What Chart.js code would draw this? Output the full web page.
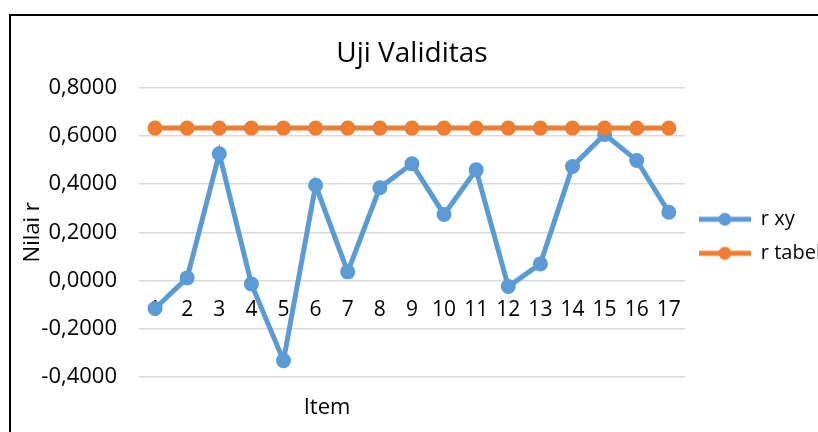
<!DOCTYPE html>
<html>
<head>
<meta charset="utf-8">
<script src="https://cdn.jsdelivr.net/npm/chart.js@4.4.0/dist/chart.umd.min.js"></script>
<style>
  html, body { margin: 0; padding: 0; background: #fff; overflow: hidden; }
  #frame { position: absolute; left: 9px; top: 14px; width: 1000px; height: 1000px;
           border-left: 2px solid #000; border-top: 2px solid #000; }
  #chart { position: absolute; left: 0; top: 0; }
</style>
</head>
<body>
<div id="frame"></div>
<canvas id="chart" width="831" height="432"></canvas>
<script>
// data
const items = ['1', '2', '3', '4', '5', '6', '7', '8', '9', '10', '11', '12', '13', '14', '15', '16', '17'];
const rXy = [-0.116, 0.011, 0.526, -0.014, -0.332, 0.395, 0.036, 0.385, 0.484, 0.274, 0.459, -0.025, 0.069, 0.473, 0.606, 0.498, 0.283];
const rTabel = [0.632, 0.632, 0.632, 0.632, 0.632, 0.632, 0.632, 0.632, 0.632, 0.632, 0.632, 0.632, 0.632, 0.632, 0.632, 0.632, 0.632];
const seriesNames = ['r xy', 'r tabel'];
const seriesColors = ['#5B9BD5', '#ED7D31'];
const chartTitle = 'Uji Validitas';
const xTitle = 'Item';
const yTitle = 'Nilai r';

Chart.defaults.font.family = "'Open Sans', sans-serif";
Chart.defaults.color = '#000';

// legend marker: short line with a dot, like Excel
function legendMarker(color) {
    const c = document.createElement('canvas');
    c.width = 52;
    c.height = 16;
    const g = c.getContext('2d');
    g.strokeStyle = color;
    g.lineWidth = 5;
    g.beginPath();
    g.moveTo(0, 8);
    g.lineTo(52, 8);
    g.stroke();
    g.fillStyle = color;
    g.beginPath();
    g.arc(26, 8, 6.5, 0, Math.PI * 2);
    g.fill();
    return c;
}
const markers = seriesColors.map(legendMarker);

// x axis title sits under the plot, not next to the axis line
const itemTitle = {
    id: 'itemTitle',
    afterDraw(chart) {
        const ctx = chart.ctx;
        ctx.save();
        ctx.font = "22px 'Open Sans'";
        ctx.fillStyle = '#000';
        ctx.textAlign = 'center';
        ctx.textBaseline = 'alphabetic';
        ctx.fillText(xTitle, 327, 414);
        ctx.restore();
    }
};

const makeSet = (label, data, color, order) => ({
    label,
    data,
    order,
    borderColor: color,
    backgroundColor: color,
    borderWidth: 5,
    pointRadius: 7.5,
    pointBorderWidth: 0,
    pointBackgroundColor: color,
    tension: 0
});

new Chart(document.getElementById('chart'), {
    type: 'line',
    data: {
        labels: items,
        datasets: [
            makeSet(seriesNames[0], rXy, seriesColors[0], 1),
            makeSet(seriesNames[1], rTabel, seriesColors[1], 0)
        ]
    },
    options: {
        responsive: false,
        animation: false,
        layout: { padding: { left: 0, right: 0, top: 0, bottom: 55 } },
        plugins: {
            title: {
                display: true,
                text: chartTitle,
                fullSize: false,
                font: { size: 28, weight: 'normal' },
                color: '#000',
                padding: { top: 37, bottom: 17 }
            },
            legend: {
                position: 'right',
                fullSize: false,
                title: { display: true, text: ' ', font: { size: 5 }, padding: 1 },
                labels: {
                    usePointStyle: true,
                    pointStyleWidth: 52,
                    font: { size: 20 },
                    color: '#000',
                    padding: 14,
                    sort: (a, b) => a.datasetIndex - b.datasetIndex,
                    generateLabels(chart) {
                        const list = Chart.defaults.plugins.legend.labels.generateLabels(chart);
                        list.forEach(it => { it.pointStyle = markers[it.datasetIndex]; });
                        return list;
                    }
                }
            },
            tooltip: { enabled: false }
        },
        scales: {
            x: {
                position: { y: 0 },
                offset: true,
                z: 1,
                grid: { display: false, drawTicks: false },
                border: { display: false },
                ticks: { padding: 17, font: { size: 21 }, color: '#000', autoSkip: false, maxRotation: 0 }
            },
            y: {
                min: -0.4,
                max: 0.8,
                afterFit: scale => { scale.width = 139; },
                grid: { color: '#D9D9D9', lineWidth: 1.5, drawTicks: false },
                border: { display: false },
                ticks: {
                    stepSize: 0.2,
                    padding: 22,
                    font: { size: 22 },
                    color: '#000',
                    callback: v => (Math.abs(v) < 1e-9 ? 0 : v).toFixed(4).replace('.', ',')
                },
                title: {
                    display: true,
                    text: yTitle,
                    font: { size: 22 },
                    color: '#000',
                    padding: { top: 20, bottom: 0 }
                }
            }
        }
    },
    plugins: [itemTitle]
});
</script>
</body>
</html>
